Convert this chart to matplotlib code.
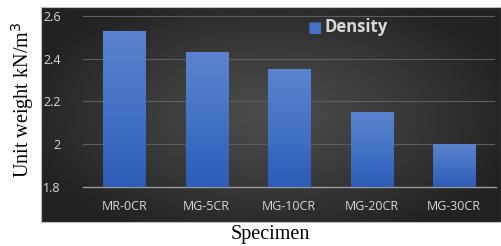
import numpy as np
import matplotlib.pyplot as plt
from matplotlib.colors import LinearSegmentedColormap
from matplotlib.patches import Rectangle

specimens = ['MR-0CR', 'MG-5CR', 'MG-10CR', 'MG-20CR', 'MG-30CR']
density = [2.53, 2.43, 2.35, 2.15, 2.00]
y_ticks = [1.8, 2.0, 2.2, 2.4, 2.6]
y_tick_labels = ['1.8', '2', '2.2', '2.4', '2.6']

W, H = 502, 246
fig = plt.figure(figsize=(W / 100, H / 100), dpi=100)
fig.patch.set_facecolor('white')

# dark chart panel with a soft radial gradient
panel = fig.add_axes([41 / W, (H - 222) / H, 460 / W, 215 / H])
panel.set_zorder(0)
gx, gy = np.meshgrid(np.linspace(-1, 1, 300), np.linspace(-1, 1, 150))
r = np.clip(np.sqrt((gx * 0.9) ** 2 + (gy * 0.8) ** 2), 0, 1)
bg_cmap = LinearSegmentedColormap.from_list('bg', ['#4d4d4d', '#3a3a3a', '#222222'])
panel.imshow(r, cmap=bg_cmap, aspect='auto', extent=[0, 1, 0, 1], vmin=0, vmax=1)
panel.set_xlim(0, 1)
panel.set_ylim(0, 1)
panel.set_xticks([])
panel.set_yticks([])
for s in panel.spines.values():
    s.set_color('#bfbfbf')
    s.set_linewidth(0.8)

ax = fig.add_axes([83 / W, (H - 187) / H, 412.5 / W, 171.3 / H])
ax.set_zorder(1)
ax.patch.set_alpha(0)

x = np.arange(len(specimens))
bars = ax.bar(x, density, width=0.51, color='none', zorder=3)

bar_cmap = LinearSegmentedColormap.from_list('bar', ['#2e5cb6', '#4472c4', '#5b84cf'])
grad = np.linspace(0, 1, 256).reshape(-1, 1)
for b in bars:
    x0, w, h = b.get_x(), b.get_width(), b.get_height()
    im = ax.imshow(grad, cmap=bar_cmap, origin='lower', aspect='auto',
                   extent=[x0, x0 + w, 1.8, h], zorder=3)
    clip = Rectangle((x0, 1.8), w, h - 1.8, transform=ax.transData)
    im.set_clip_path(clip)

ax.set_xlim(-0.5, len(specimens) - 0.5)
ax.set_ylim(1.8, 2.6)
ax.set_yticks(y_ticks)
ax.set_yticklabels(y_tick_labels)
ax.set_xticks(x)
ax.set_xticklabels(specimens)
ax.tick_params(axis='both', length=0, colors='#d9d9d9', labelsize=9)
ax.tick_params(axis='y', pad=16)
ax.tick_params(axis='x', pad=9)
for lbl in ax.get_xticklabels() + ax.get_yticklabels():
    lbl.set_family('Open Sans')

for v in y_ticks[1:]:
    ax.axhline(v, color='#5e5e5e', linewidth=0.8, zorder=1)
for s in ['top', 'right', 'left']:
    ax.spines[s].set_visible(False)
ax.spines['bottom'].set_color('#9a9a9a')
ax.spines['bottom'].set_linewidth(1.0)

# legend
fig.text(308 / W, (H - 27) / H, '\u25A0', color='#4472c4', fontsize=11,
         va='center', ha='left')
fig.text(325 / W, (H - 27) / H, 'Density', color='#d9d9d9', fontsize=12,
         fontweight='bold', family='Open Sans', va='center', ha='left')

fig.text(23 / W, (H - 100) / H, 'Unit weight kN/m$^3$', rotation=90,
         family='Liberation Serif', fontsize=14.5, va='center', ha='center')
fig.text(270 / W, (H - 234) / H, 'Specimen', family='Liberation Serif',
         fontsize=14.5, va='center', ha='center')

fig.savefig('out.png', dpi=100)
